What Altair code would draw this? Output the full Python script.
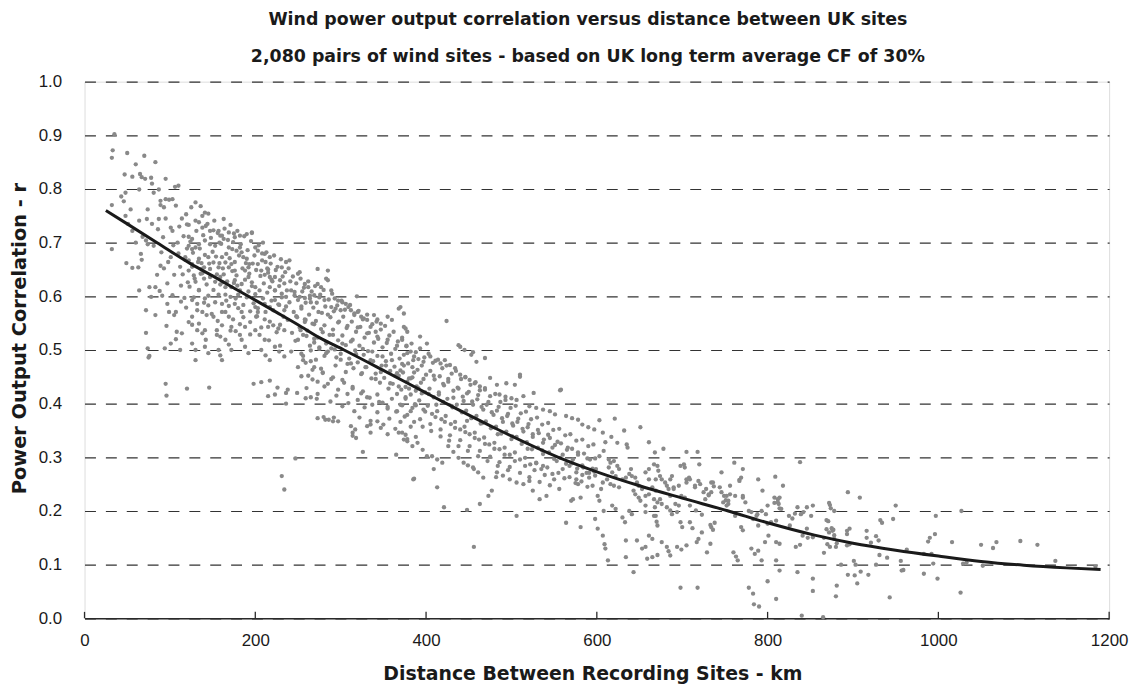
import altair as alt
import pandas as pd

TITLE_1 = "Wind power output correlation versus distance between UK sites"
TITLE_2 = "2,080 pairs of wind sites - based on UK long term average CF of 30%"
X_TITLE = "Distance Between Recording Sites - km"
Y_TITLE = "Power Output Correlation - r"

x_ticks = [0, 200, 400, 600, 800, 1000, 1200]
y_ticks = [0.0, 0.1, 0.2, 0.3, 0.4, 0.5, 0.6, 0.7, 0.8, 0.9, 1.0]

# (distance km, correlation r) pairs, by distance band
band_a = [
    (35, .902), (33, .872), (32, .858), (50, .867), (70, .862), (60, .846), (83, .850), (47, .827),
    (56, .823), (65, .828), (67, .822), (71, .819), (78, .821), (79, .810), (95, .819), (87, .799),
    (64, .799), (81, .793), (48, .793), (43, .786), (46, .777), (32, .770), (54, .762), (74, .762),
    (89, .778), (95, .781), (99, .780), (103, .781), (106, .804), (110, .806), (89, .770), (93, .766),
    (107, .769), (87, .744), (95, .745), (48, .750), (51, .735), (56, .722), (64, .741), (73, .744),
    (79, .735), (101, .728), (103, .722), (68, .711), (72, .704), (74, .697), (32, .688), (81, .694),
    (90, .682), (101, .673), (98, .664), (89, .657), (93, .652), (49, .662), (56, .653), (63, .654),
    (66, .679), (67, .668), (64, .611), (76, .617), (83, .617), (72, .574), (78, .599), (91, .601),
    (83, .565), (97, .624), (99, .571), (105, .565), (103, .602), (97, .586), (72, .532), (74, .503),
    (76, .489), (94, .503), (101, .512), (107, .520), (112, .500), (108, .534), (114, .531), (107, .571),
    (95, .437), (96, .415), (75, .486), (110, .680), (112, .655), (105, .640), (113, .620), (109, .700),
    (114, .745), (111, .730), (104, .695), (86, .725), (92, .710), (60, .700), (85, .640), (88, .610),
    (96, .545), (113, .590),
]

band_b = [
    (120, .734), (122, .711), (126, .707), (130, .741), (134, .738), (130, .775), (138, .750), (141, .756),
    (145, .754), (138, .728), (142, .731), (147, .722), (151, .723), (157, .722), (161, .713), (169, .719),
    (176, .710), (182, .713), (196, .719), (122, .694), (126, .688), (130, .691), (134, .697), (141, .704),
    (147, .697), (153, .694), (158, .700), (163, .707), (169, .691), (173, .688), (178, .685), (182, .691),
    (184, .682), (186, .673), (118, .673), (122, .667), (126, .660), (134, .670), (137, .662), (140, .654),
    (145, .673), (151, .663), (157, .654), (161, .673), (165, .663), (169, .654), (172, .660), (176, .648),
    (122, .648), (128, .639), (136, .642), (140, .633), (147, .636), (153, .627), (159, .636), (162, .626),
    (165, .617), (176, .630), (179, .620), (182, .611), (192, .636), (196, .626), (200, .617), (188, .648),
    (192, .654), (203, .660), (207, .648), (211, .640), (214, .652), (217, .636), (211, .679), (217, .673),
    (200, .691), (203, .685), (209, .700), (231, .654), (223, .636), (229, .630), (234, .624), (134, .611),
    (126, .593), (132, .586), (141, .596), (145, .583), (138, .571), (143, .565), (126, .562), (122, .552),
    (132, .537), (138, .531), (126, .512), (130, .500), (141, .506), (145, .494), (155, .537), (159, .525),
    (151, .562), (156, .554), (161, .546), (165, .571), (169, .562), (161, .586), (166, .592), (171, .599),
    (176, .586), (180, .578), (184, .571), (172, .543), (177, .535), (182, .528), (165, .519), (169, .510),
    (172, .500), (184, .519), (188, .506), (192, .494), (157, .500), (159, .490), (161, .481), (188, .543),
    (194, .552), (201, .562), (200, .537), (205, .528), (211, .519), (215, .543), (221, .546), (227, .540),
    (207, .500), (212, .490), (217, .481), (223, .506), (228, .497), (234, .488), (200, .580), (203, .571),
    (211, .586), (217, .580), (223, .593), (228, .584), (234, .574), (217, .617), (223, .611), (231, .605),
    (236, .599), (134, .549), (130, .481), (141, .537), (159, .713), (175, .717), (190, .716), (196, .718),
    (208, .680), (212, .664), (215, .650), (219, .631), (190, .670), (193, .660), (146, .430), (120, .428),
    (198, .437), (207, .440), (217, .443), (215, .414), (223, .417), (226, .430), (236, .420), (236, .400),
    (231, .265), (234, .240), (247, .298),
]

band_c = [
    (236, .664), (240, .667), (250, .642), (252, .645), (273, .651), (285, .630), (283, .633), (258, .623),
    (262, .617), (242, .611), (246, .608), (273, .623), (277, .617), (289, .611), (252, .599), (258, .597),
    (264, .596), (269, .602), (275, .598), (281, .593), (293, .596), (297, .592), (302, .589), (289, .580),
    (294, .577), (300, .574), (306, .586), (309, .580), (312, .574), (316, .565), (320, .571), (324, .562),
    (327, .559), (331, .556), (339, .565), (343, .557), (347, .549), (355, .562), (360, .556), (368, .577),
    (374, .543), (378, .534), (335, .543), (341, .534), (285, .648),
    (254, .581), (259, .556), (265, .589), (269, .548), (274, .571), (279, .533), (285, .566), (291, .528),
    (297, .551), (302, .512), (308, .545), (314, .519), (320, .542), (326, .502), (331, .531), (337, .497),
    (343, .525), (349, .488), (355, .519), (360, .481), (366, .508), (372, .474), (378, .494), (384, .468),
    (248, .563), (253, .537), (258, .552), (250, .519), (256, .528), (264, .508), (269, .521), (275, .502),
    (281, .489), (254, .493), (259, .476), (265, .499), (271, .482), (277, .465), (283, .494), (289, .503),
    (294, .471), (300, .482), (306, .459), (312, .475), (318, .492), (324, .455), (329, .468), (335, .481),
    (341, .446), (347, .459), (353, .471), (358, .438), (364, .452), (370, .462), (376, .431), (382, .447),
    (388, .424),
    (250, .468), (256, .481), (262, .452), (267, .463), (273, .441), (279, .458), (285, .437), (291, .449),
    (297, .426), (302, .444), (308, .418), (314, .431), (320, .407), (326, .423), (331, .412), (337, .398),
    (343, .417), (349, .402), (355, .391), (360, .409), (366, .386), (372, .397), (378, .379), (384, .392),
    (254, .451), (260, .429), (267, .445), (273, .418), (238, .426), (281, .432), (288, .404), (295, .415),
    (302, .395), (309, .401), (316, .386), (322, .374), (328, .393), (335, .368), (343, .384), (350, .361),
    (357, .372), (364, .353), (370, .366), (376, .342), (382, .357), (388, .338),
    (273, .373), (282, .370), (291, .367), (314, .346), (318, .336), (331, .358), (335, .346), (347, .355),
    (355, .343), (368, .346), (374, .333), (378, .330), (249, .420), (259, .410), (265, .412), (272, .409),
    (280, .375), (286, .370), (292, .374), (314, .340), (326, .310), (365, .305), (386, .260), (297, .367),
    (335, .361), (343, .367), (312, .358), (317, .352), (319, .600), (370, .580),
]

band_d = [
    (374, .568), (376, .540), (424, .554), (393, .525), (401, .512), (372, .519), (377, .508),
    (382, .497), (386, .488), (391, .483), (397, .478), (405, .488), (411, .480), (417, .475), (422, .481),
    (428, .472), (434, .466), (438, .509), (445, .500), (453, .491), (459, .478), (469, .485), (440, .454),
    (446, .449), (451, .444), (457, .438), (463, .432), (469, .426), (475, .448), (483, .435), (486, .417),
    (493, .413), (500, .410), (494, .438), (504, .435), (510, .454), (506, .407), (514, .414), (521, .395),
    (529, .392), (537, .389), (545, .386), (551, .380), (558, .426), (564, .377), (571, .373), (578, .370),
    (583, .361), (590, .356), (597, .352),
    (374, .471), (380, .447), (386, .458), (391, .429), (397, .446), (403, .418), (409, .452), (415, .421),
    (420, .437), (426, .446), (432, .411), (438, .428), (444, .405), (450, .422), (455, .398), (461, .416),
    (467, .389), (473, .403), (479, .379), (485, .394), (490, .366), (496, .381), (502, .359), (508, .372),
    (514, .348), (520, .362), (525, .338), (531, .351), (537, .327), (543, .342), (548, .318), (554, .329),
    (560, .305), (566, .318), (572, .296), (578, .309), (583, .285), (589, .298), (595, .279),
    (380, .428), (395, .419), (412, .398), (430, .396), (448, .368), (466, .364), (484, .343), (501, .339),
    (519, .316), (536, .313), (553, .293), (571, .289), (588, .271), (598, .266),
    (370, .398), (376, .412), (382, .386), (388, .397), (393, .371), (399, .385), (405, .362), (411, .375),
    (417, .352), (422, .366), (428, .341), (434, .355), (440, .332), (446, .347), (451, .321), (457, .336),
    (463, .312), (469, .325), (475, .301), (480, .316), (486, .291), (492, .305), (498, .282), (504, .293),
    (510, .271), (516, .284), (521, .263), (527, .276), (533, .254), (539, .267), (545, .248), (550, .259),
    (556, .241),
    (372, .346), (378, .334), (384, .321), (390, .327), (396, .314), (401, .302), (407, .302), (413, .296),
    (419, .290), (426, .321), (432, .310), (438, .299), (444, .290), (449, .285), (455, .281), (461, .272),
    (467, .262), (483, .272), (490, .266), (498, .259), (514, .250), (521, .256), (529, .290), (537, .284),
    (560, .278), (568, .284), (576, .272), (583, .267), (591, .262), (366, .457), (368, .432), (448, .202),
    (506, .191), (473, .228), (477, .238), (463, .213), (413, .244), (385, .259), (525, .238), (570, .219),
    (572, .222), (581, .225), (564, .178), (581, .170), (598, .185), (576, .259), (578, .250), (533, .222),
    (541, .228), (506, .253), (456, .133), (421, .207), (440, .506), (455, .496), (510, .450), (557, .425),
    (526, .420), (409, .278), (456, .278), (482, .263),
]

band_e = [
    (603, .369), (621, .372), (607, .346), (610, .328), (617, .338), (624, .327), (632, .350), (635, .324),
    (636, .318), (651, .356), (661, .328), (678, .316), (668, .309), (705, .310), (718, .310), (702, .287),
    (703, .281), (720, .287), (746, .272), (761, .290), (771, .278), (789, .259), (809, .264), (838, .291),
    (818, .247), (794, .238), (734, .253), (737, .246), (721, .250), (728, .241), (756, .247), (767, .258),
    (746, .235), (749, .228), (751, .220), (754, .213), (771, .228), (774, .216), (762, .191), (769, .170),
    (771, .164), (781, .198), (787, .191), (789, .173), (798, .194), (800, .176), (801, .154), (804, .179),
    (810, .182), (812, .222), (813, .213), (814, .205), (810, .142), (814, .139), (810, .108), (814, .089),
    (825, .191), (829, .186), (833, .133), (838, .137), (826, .173), (841, .154), (847, .150), (853, .151),
    (853, .210), (851, .191), (835, .086), (853, .074), (853, .051), (800, .069), (778, .057), (783, .046),
    (784, .026), (790, .022), (810, .036), (840, .005), (865, .002), (698, .057), (718, .057), (643, .086),
    (661, .154), (665, .148), (671, .173), (653, .130), (657, .133), (659, .111), (665, .114), (671, .118),
    (676, .142), (682, .133), (684, .125), (686, .117), (694, .133), (699, .128), (705, .136), (717, .142),
    (719, .148), (723, .160), (729, .123), (733, .139), (734, .170), (736, .165), (760, .123), (763, .115),
    (765, .108), (781, .130), (785, .120), (789, .126), (793, .108), (797, .142), (601, .167), (607, .154),
    (609, .138), (610, .130), (613, .108), (634, .145), (634, .114), (647, .145), (630, .188), (633, .179),
    (638, .200), (641, .194), (668, .207), (670, .180), (651, .219), (657, .210), (669, .191), (682, .207),
    (686, .201), (688, .194), (694, .198), (698, .179), (700, .170), (709, .179), (712, .168), (699, .228),
    (703, .225), (709, .210), (716, .201), (723, .193), (733, .174), (738, .178), (696, .210), (692, .213),
    (690, .241), (696, .247), (705, .259), (708, .262), (715, .244), (727, .222), (731, .229), (734, .235),
    (748, .216), (752, .210), (756, .231), (762, .228), (778, .200), (783, .185), (788, .194), (793, .200),
    (800, .210), (808, .215), (814, .225), (835, .207), (832, .195), (842, .198), (846, .167),
    (614, .296), (616, .290), (620, .293), (624, .284), (626, .278), (614, .281), (618, .272), (622, .265),
    (612, .259), (607, .253), (616, .250), (620, .247), (626, .244), (630, .259), (634, .262), (638, .269),
    (640, .278), (641, .265), (645, .262), (647, .253), (649, .247), (643, .238), (645, .231), (649, .225),
    (605, .241), (601, .228), (603, .219), (608, .200), (618, .210), (622, .204), (657, .272), (661, .278),
    (667, .287), (671, .284), (672, .275), (674, .265), (676, .259), (680, .253), (682, .247), (684, .241),
    (686, .259), (688, .265), (690, .244), (665, .244), (669, .238), (661, .231), (667, .222), (671, .216),
    (674, .222), (676, .213), (686, .228), (669, .259), (661, .259), (653, .241), (657, .228), (657, .198),
    (667, .191), (599, .278), (603, .302), (608, .312), (698, .284), (705, .253), (709, .259), (715, .247),
    (719, .256), (725, .235), (731, .231), (736, .253), (744, .244), (752, .228), (754, .219), (771, .225),
    (767, .256), (769, .262), (808, .225), (812, .216), (816, .204), (839, .194), (846, .207),
]

band_f = [
    (894, .235), (908, .225), (873, .211), (950, .210), (947, .185), (932, .183), (934, .178), (1027, .200),
    (997, .191), (996, .157), (990, .150), (988, .143), (1016, .142), (1050, .137), (1064, .131), (1068, .142),
    (1096, .144), (1116, .137), (1137, .107), (1184, .096), (1026, .048), (999, .074), (983, .083), (994, .102),
    (992, .120), (983, .120), (957, .089), (959, .090), (956, .107), (963, .128), (943, .039), (927, .100),
    (918, .081), (909, .087), (905, .065), (902, .080), (894, .081), (881, .061), (880, .041), (886, .100),
    (901, .107), (903, .100), (916, .163), (916, .150), (921, .141), (927, .153), (930, .145), (893, .163),
    (896, .167), (893, .157), (893, .136), (896, .138), (940, .113), (931, .118), (876, .163), (875, .168),
    (877, .165), (871, .181), (869, .183), (878, .200), (873, .133), (880, .133), (881, .140), (878, .155),
    (866, .122), (869, .166), (872, .160), (878, .148), (866, .150), (870, .138), (874, .205), (872, .215),
    (1029, .102), (1033, .104), (1052, .098),
]

# the densely packed core of the cloud, 115-600 km
band_g = [
    (116, .712), (118, .668), (115, .641), (117, .597), (119, .753), (120, .689), (121, .626), (119, .579),
    (122, .733), (124, .702), (126, .655), (123, .618), (125, .766), (127, .681), (129, .633), (128, .598),
    (126, .547), (131, .722), (133, .664), (130, .627), (132, .574), (135, .689), (137, .651), (134, .612),
    (136, .768), (139, .714), (141, .677), (138, .643), (140, .588), (142, .519), (144, .735), (146, .661),
    (143, .622), (145, .601), (148, .709), (150, .683), (147, .651), (149, .567), (152, .741), (154, .674),
    (151, .612), (153, .589), (155, .528), (156, .718), (158, .662), (155, .641), (157, .603), (160, .698),
    (162, .652), (159, .622), (161, .571), (163, .744), (164, .726), (166, .679), (163, .641), (165, .603),
    (168, .705), (170, .671), (167, .628), (169, .582), (171, .536), (171, .733), (173, .647), (172, .617),
    (174, .557), (174, .701), (176, .664), (175, .625), (177, .596), (179, .722), (181, .676), (178, .639),
    (180, .603), (182, .548), (183, .697), (185, .652), (184, .623), (186, .584), (187, .712), (189, .662),
    (188, .631), (190, .598), (186, .561), (191, .686), (193, .642), (192, .609), (194, .572), (195, .703),
    (197, .661), (196, .619), (198, .587), (194, .529), (199, .676), (201, .649), (200, .604), (202, .563),
    (204, .695), (206, .638), (205, .611), (203, .578), (207, .542), (208, .667), (210, .624), (209, .596),
    (211, .557), (213, .682), (215, .644), (214, .607), (212, .571), (216, .518), (218, .661), (220, .628),
    (219, .592), (217, .553), (222, .676), (224, .649), (223, .611), (221, .574), (225, .533), (226, .655),
    (228, .619), (227, .585), (229, .547), (230, .669), (232, .637), (231, .598), (233, .562), (229, .508),
    (235, .645), (237, .611), (236, .581), (234, .537), (239, .652), (241, .628), (240, .589), (238, .556),
    (242, .497), (244, .637), (246, .602), (245, .571), (243, .532), (248, .624), (250, .593), (249, .561),
    (247, .517), (253, .633), (255, .609), (254, .577), (252, .542), (256, .489), (257, .616), (259, .588),
    (258, .557), (260, .526), (262, .628), (264, .601), (263, .566), (261, .536), (265, .479), (266, .609),
    (268, .579), (267, .549), (269, .514), (270, .619), (272, .588), (271, .554), (273, .523), (269, .468),
    (276, .603), (278, .569), (277, .539), (275, .505), (280, .612), (282, .581), (281, .546), (283, .512),
    (279, .457), (286, .594), (288, .561), (287, .528), (285, .497), (290, .605), (292, .572), (291, .538),
    (293, .501), (289, .446), (296, .583), (298, .553), (297, .518), (295, .486), (301, .592), (303, .562),
    (302, .527), (300, .493), (304, .439), (305, .575), (307, .541), (306, .509), (308, .474), (311, .584),
    (313, .553), (312, .516), (310, .484), (314, .428), (316, .568), (318, .534), (317, .499), (315, .466),
    (321, .573), (323, .543), (322, .508), (320, .477), (324, .419), (326, .557), (328, .523), (327, .491),
    (325, .457), (331, .566), (333, .532), (332, .498), (330, .468), (334, .411), (337, .548), (339, .514),
    (338, .479), (336, .447), (342, .553), (344, .521), (343, .489), (341, .456), (345, .403), (347, .538),
    (349, .505), (348, .471), (346, .439), (352, .545), (354, .513), (353, .479), (351, .448), (355, .394),
    (357, .527), (359, .493), (358, .461), (356, .428), (362, .534), (364, .502), (363, .469), (361, .437),
    (365, .385), (367, .516), (369, .484), (368, .452), (366, .418), (372, .523), (374, .491), (373, .458),
    (371, .426), (375, .376), (377, .507), (379, .475), (378, .441), (376, .409), (383, .512), (385, .481),
    (384, .449), (382, .417), (386, .366), (388, .496), (390, .463), (389, .432), (387, .399), (393, .503),
    (395, .471), (394, .439), (392, .406), (396, .357), (398, .486), (400, .454), (399, .421), (397, .389),
    (403, .493), (405, .461), (404, .428), (402, .396), (406, .349), (408, .476), (410, .445), (409, .412),
    (407, .381), (414, .482), (416, .451), (415, .417), (413, .386), (417, .339), (419, .466), (421, .434),
    (420, .403), (418, .371), (424, .471), (426, .441), (425, .409), (423, .377), (427, .331), (430, .456),
    (432, .424), (431, .393), (429, .362), (435, .461), (437, .430), (436, .398), (434, .366), (438, .321),
    (441, .446), (443, .413), (442, .384), (440, .352), (446, .450), (448, .419), (447, .387), (445, .357),
    (449, .312), (452, .435), (454, .404), (453, .373), (451, .343), (458, .440), (460, .408), (459, .377),
    (457, .346), (461, .302), (463, .425), (465, .394), (464, .363), (462, .333), (469, .429), (471, .398),
    (470, .367), (468, .337), (472, .293), (475, .414), (477, .384), (476, .354), (474, .324), (481, .418),
    (483, .387), (482, .357), (480, .327), (484, .284), (487, .403), (489, .373), (488, .344), (486, .315),
    (493, .407), (495, .377), (494, .348), (492, .318), (496, .276), (499, .392), (501, .363), (500, .334),
    (498, .305), (505, .396), (507, .366), (506, .338), (504, .309), (511, .382), (513, .353), (512, .325),
    (510, .296), (517, .385), (519, .356), (518, .328), (516, .299), (523, .371), (525, .343), (524, .315),
    (522, .287), (530, .374), (532, .345), (531, .318), (529, .289), (536, .361), (538, .333), (537, .306),
    (535, .278), (543, .364), (545, .336), (544, .309), (542, .281), (549, .351), (551, .323), (550, .297),
    (548, .269), (556, .353), (558, .326), (557, .299), (555, .271), (563, .341), (565, .314), (564, .288),
    (562, .261), (569, .343), (571, .316), (570, .290), (568, .263), (576, .331), (578, .305), (577, .279),
    (575, .252), (583, .333), (585, .307), (584, .281), (582, .255), (590, .321), (592, .296), (591, .271),
    (589, .245), (596, .324), (598, .298), (597, .273), (595, .247),
]

# fitted trend curve
line_km = [25, 50, 85, 125, 150, 192, 225, 250, 275, 304, 350, 400, 424, 480, 555, 600,
           650, 700, 754, 800, 855, 900, 950, 1000, 1050, 1100, 1150, 1190]
line_r = [0.760, 0.735, 0.700, 0.660, 0.638, 0.600, 0.570, 0.547, 0.523, 0.500, 0.462, 0.420,
          0.400, 0.355, 0.300, 0.273, 0.247, 0.224, 0.200, 0.178, 0.155, 0.140, 0.127, 0.116,
          0.106, 0.099, 0.094, 0.091]

LABEL_FONT = "Liberation Sans"
TITLE_FONT = "DejaVu Sans"
TEXT = "#1a1a1a"

pairs = band_a + band_b + band_c + band_d + band_e + band_f + band_g
pts_df = pd.DataFrame(pairs, columns=["km", "r"])
line_df = pd.DataFrame({"km": line_km, "r": line_r})
tick_df = pd.DataFrame({"km": x_ticks})

x_scale = alt.Scale(domain=[0, 1200], nice=False, zero=False)
y_scale = alt.Scale(domain=[0, 1], nice=False, zero=False)

x_enc = alt.X(
    "km:Q", scale=x_scale,
    axis=alt.Axis(
        values=x_ticks, format="d", title=X_TITLE, grid=False, ticks=False,
        domain=True, domainColor="#2a2a2a", domainWidth=1.5,
        labelFont=LABEL_FONT, labelFontSize=17, labelColor=TEXT, labelPadding=14,
        labelFlush=False, labelOverlap=False,
        titleFont=TITLE_FONT, titleFontSize=19, titleFontWeight="bold", titleColor=TEXT,
        titleX=511, titleY=56, titleBaseline="middle", titleAlign="center",
    ),
)
y_enc = alt.Y(
    "r:Q", scale=y_scale,
    axis=alt.Axis(
        values=y_ticks, format=".1f", title=Y_TITLE, grid=True,
        gridDash=[11, 10], gridColor="#333333", gridWidth=1.2,
        domain=False, ticks=False,
        labelFont=LABEL_FONT, labelFontSize=17, labelColor=TEXT, labelPadding=23,
        labelFlush=False, labelOverlap=False,
        titleFont=TITLE_FONT, titleFontSize=19.5, titleFontWeight="bold", titleColor=TEXT,
        titleX=-65, titleY=258, titleAngle=270, titleBaseline="middle", titleAlign="center",
    ),
)

points = alt.Chart(pts_df).mark_circle(size=19, color="#898989", opacity=1).encode(x=x_enc, y=y_enc)
trend = alt.Chart(line_df).mark_line(color="#1a1a1a", strokeWidth=3, interpolate="monotone").encode(
    x="km:Q", y="r:Q")
ticks = alt.Chart(tick_df).mark_rule(color="#2a2a2a", strokeWidth=1.3).encode(
    x="km:Q", y=alt.datum(0), y2=alt.datum(0.012))

chart = alt.layer(points, trend, ticks).properties(
    width=1031, height=540,
    padding={"left": 77, "top": 72, "right": 23, "bottom": 67},
    autosize=alt.AutoSizeParams(type="none"),
    title=alt.Title(
        text=[TITLE_1, TITLE_2], font=TITLE_FONT, fontSize=17.5, fontWeight="bold", color=TEXT,
        lineHeight=38, offset=7, anchor="middle", dx=-9,
    ),
).configure_view(stroke=None).configure(background="white")

chart.save("out.html", embed_options={"renderer": "svg", "actions": False})
